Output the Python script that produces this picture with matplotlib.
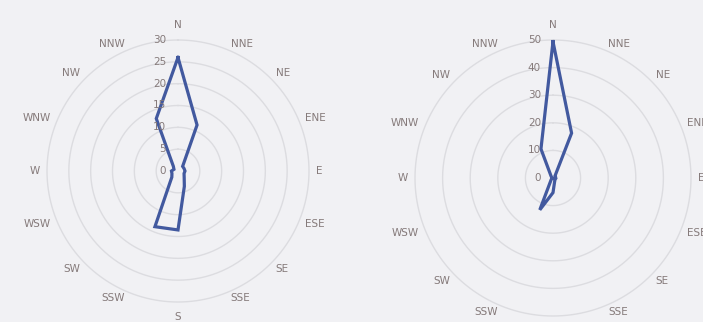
import numpy as np
import matplotlib
matplotlib.use("Agg")
import matplotlib.pyplot as plt
from matplotlib.transforms import offset_copy

# Wind-direction categories, clockwise from north
directions = ["N", "NNE", "NE", "ENE", "E", "ESE", "SE", "SSE",
              "S", "SSW", "SW", "WSW", "W", "WNW", "NW", "NNW"]

# Frequency per direction for the two stations
left_values = [26, 11.4, 1.5, 1.5, 1.6, 1.5, 2, 3.8,
               13.5, 13.8, 2, 1.5, 1.5, 1, 1.5, 13]
right_values = [49.4, 17.6, 1, 1, 1, 0.5, 1, 1.5,
                5.3, 12.5, 1, 0.5, 0.5, 0.5, 1, 11.4]

left_ticks = [0, 5, 10, 15, 20, 25, 30]
right_ticks = [0, 10, 20, 30, 40, 50]

BG = "#f1f1f4"
GRID = "#dcdce0"
LINE = "#42599f"
TEXT = "#857a7a"

fig = plt.figure(figsize=(7.03, 3.22), dpi=100, facecolor=BG)

W, H = 703, 322


def radar(center_px, radius_px, values, ticks):
    cx, cy = center_px
    rect = [(cx - radius_px) / W, (H - cy - radius_px) / H,
            2 * radius_px / W, 2 * radius_px / H]
    ax = fig.add_axes(rect, projection="polar")
    ax.set_theta_zero_location("N")
    ax.set_theta_direction(-1)
    rmax = ticks[-1]
    ax.set_ylim(0, rmax)
    ax.set_axis_off()

    n = len(directions)
    theta = np.linspace(0, 2 * np.pi, n, endpoint=False)
    theta_c = np.append(theta, theta[0])

    # circular gridlines
    ring_t = np.linspace(0, 2 * np.pi, 361)
    for t in ticks[1:]:
        ax.plot(ring_t, np.full_like(ring_t, t), color=GRID, lw=1.0,
                zorder=1, clip_on=False)

    # data polygon
    vals = np.append(values, values[0])
    ax.plot(theta_c, vals, color=LINE, lw=2.3, zorder=3, clip_on=False,
            solid_joinstyle="miter")

    # category labels, anchored just outside the outer ring
    for th, lab in zip(theta, directions):
        s, c = np.sin(th), np.cos(th)
        if abs(s) < 0.01:
            ha = "center"
            va = "bottom" if c > 0 else "top"
            gap = 10
        else:
            ha = "left" if s > 0 else "right"
            va = "center"
            gap = 7
        ax.text(th, rmax * (1 + gap / radius_px), lab, ha=ha, va=va,
                fontsize=7.5, color=TEXT, clip_on=False)

    # value-axis labels, right-aligned left of the north spoke
    trans = offset_copy(ax.transData, fig=fig, x=-12, y=0, units="dots")
    for t in ticks:
        ax.text(0, t, str(t), ha="right", va="center", fontsize=7.5,
                color=TEXT, transform=trans, clip_on=False)
    return ax


radar((178, 171), 131, left_values, left_ticks)
radar((553, 178), 138, right_values, right_ticks)

fig.savefig("out.png", dpi=100, facecolor=BG)
